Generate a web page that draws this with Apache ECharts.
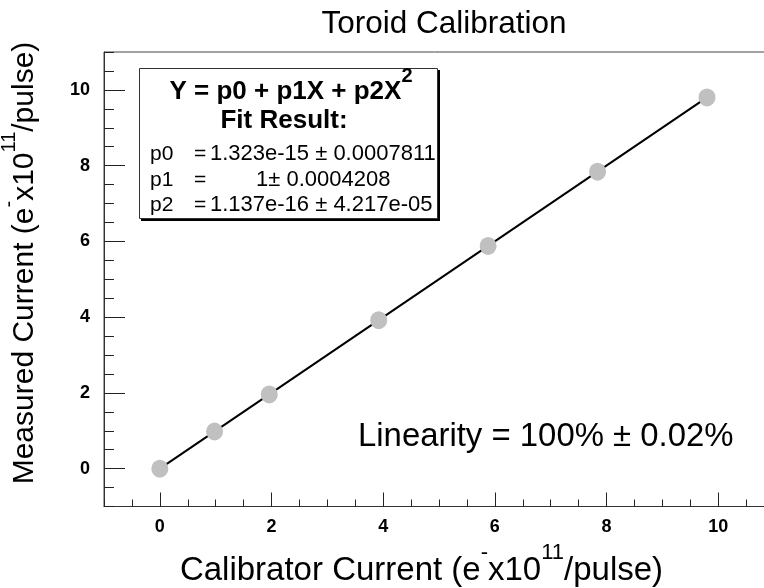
<!DOCTYPE html>
<html><head><meta charset="utf-8">
<script src="https://cdn.jsdelivr.net/npm/echarts@6/dist/echarts.min.js"></script>
<style>html,body{margin:0;padding:0;background:#fff}#c{width:764px;height:588px}</style>
</head><body><div id="c"></div>
<script>
// ---- data ----
const calibratorCurrent = [0, 0.98, 1.96, 3.92, 5.88, 7.84, 9.80];
const measuredCurrent   = [0, 0.98, 1.96, 3.92, 5.88, 7.84, 9.80];
const fitX = [0, 9.80];
const fitY = [0, 9.80];
const xTickLabels = [0, 2, 4, 6, 8, 10];
const yTickLabels = [0, 2, 4, 6, 8, 10];
const fitNames  = ['p0', 'p1', 'p2'];
const fitValues = ['1.323e-15 ± 0.0007811', '1± 0.0004208', '1.137e-16 ± 4.217e-05'];
const titleText = 'Toroid Calibration';
const linearityText = 'Linearity = 100% ± 0.02%';

// ---- chart ----
const FF = "'Liberation Sans', Arial, Helvetica, sans-serif";
const chart = echarts.init(document.getElementById('c'), null, {renderer: 'canvas'});

const pts = calibratorCurrent.map((x, i) => [x, measuredCurrent[i]]);
const fitPts = fitX.map((x, i) => [x, fitY[i]]);

function valAxis(kind, major) {
  const a = {
    type: 'value', min: -1, max: 11, interval: 0.5,
    position: kind === 'x' ? 'bottom' : 'left',
    splitLine: {show: false},
    axisLine: {show: !major, onZero: false, lineStyle: {color: '#333', width: 1}},
    axisTick: {show: true, inside: true, length: major ? (kind === 'x' ? 14 : 21) : (kind === 'x' ? 7 : 10),
               lineStyle: {color: '#222', width: 1}},
    axisLabel: {show: false}
  };
  if (major) {
    a.axisTick.customValues = kind === 'x' ? xTickLabels : yTickLabels;
  } else {
    a.axisLabel = {show: true, customValues: kind === 'x' ? xTickLabels : yTickLabels,
      margin: kind === 'x' ? 12 : 14, fontSize: 18, fontWeight: 'bold', color: '#000', fontFamily: FF};
  }
  return a;
}

const supRich = (F, f, P, bold) => ({
  m: {fontSize: F, lineHeight: F, fontFamily: FF, fontWeight: bold ? 'bold' : 'normal', fill: '#000', verticalAlign: 'bottom'},
  s: {fontSize: f, lineHeight: f, fontFamily: FF, fontWeight: bold ? 'bold' : 'normal', fill: '#000', verticalAlign: 'bottom', padding: [0, 0, P, 0]}
});

const graphics = [
  {type: 'text', x: 444, y: 24, style: {text: titleText, fontSize: 31.5, fontFamily: FF, fill: '#000', align: 'center', verticalAlign: 'middle'}},
  {type: 'rect', shape: {x: 141, y: 70, width: 299, height: 151}, style: {fill: '#000'}, z: 10},
  {type: 'rect', shape: {x: 139.5, y: 68.5, width: 298, height: 150}, style: {fill: '#fff', stroke: '#333', lineWidth: 1}, z: 11},
  {type: 'text', x: 291, y: 105, z: 12, style: {text: '{m|Y = p0 + p1X + p2X}{s|2}', rich: supRich(26, 20, 19, true), align: 'center', verticalAlign: 'bottom'}},
  {type: 'text', x: 284, y: 121, z: 12, style: {text: 'Fit Result:', fontSize: 26, fontWeight: 'bold', fontFamily: FF, fill: '#000', align: 'center', verticalAlign: 'middle'}},
  {type: 'text', x: 358, y: 437, style: {text: linearityText, fontSize: 32.9, fontFamily: FF, fill: '#000', align: 'left', verticalAlign: 'middle'}},
  {type: 'text', x: 421.5, y: 587, style: {text: '{m|Calibrator Current (e}{s|-}{m|x10}{s|11}{m|/pulse)}', rich: supRich(33, 22, 23, false), align: 'center', verticalAlign: 'bottom'}},
  {type: 'text', x: 40, y: 263, rotation: Math.PI / 2, style: {text: '{m|Measured Current (e}{s|-}{m|x10}{s|11}{m|/pulse)}', rich: supRich(30, 20, 21, false), align: 'center', verticalAlign: 'bottom'}}
];
const rowY = [154, 180, 205];
fitNames.forEach((n, i) => {
  graphics.push({type: 'text', x: 150, y: rowY[i], z: 12, style: {text: n, fontSize: 21, fontFamily: FF, fill: '#000', align: 'left', verticalAlign: 'middle'}});
  graphics.push({type: 'text', x: 194, y: rowY[i], z: 12, style: {text: '=', fontSize: 21, fontFamily: FF, fill: '#000', align: 'left', verticalAlign: 'middle'}});
  graphics.push({type: 'text', x: i === 1 ? 256 : 210, y: rowY[i], z: 12, style: {text: fitValues[i], fontSize: 22, fontFamily: FF, fill: '#000', align: 'left', verticalAlign: 'middle'}});
});

chart.setOption({
  animation: false,
  backgroundColor: '#fff',
  grid: {left: 104, width: 670, top: 52, height: 454.5, outerBoundsMode: 'none', containLabel: false,
         show: true, borderColor: '#444', borderWidth: 1, backgroundColor: 'transparent'},
  xAxis: [valAxis('x', false), valAxis('x', true)],
  yAxis: [valAxis('y', false), valAxis('y', true)],
  series: [
    {type: 'line', data: fitPts, xAxisIndex: 0, yAxisIndex: 0, symbol: 'none', silent: true, z: 2,
     lineStyle: {color: '#000', width: 2}},
    {type: 'scatter', data: pts, xAxisIndex: 0, yAxisIndex: 0, symbol: 'circle', symbolSize: [17, 18], z: 3,
     itemStyle: {color: '#c0c0c0', opacity: 1}}
  ],
  graphic: graphics
});
</script>
</body></html>
